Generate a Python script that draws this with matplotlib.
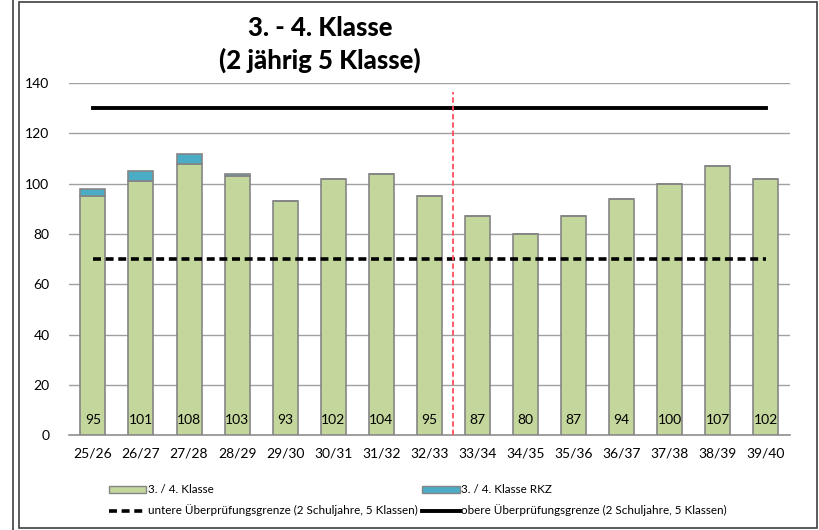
import matplotlib.pyplot as plt
from matplotlib.lines import Line2D
from matplotlib.patches import Patch, Rectangle

plt.rcParams['font.family'] = ['Lato', 'DejaVu Sans']

# Daten
jahre = ['25/26', '26/27', '27/28', '28/29', '29/30', '30/31', '31/32', '32/33',
         '33/34', '34/35', '35/36', '36/37', '37/38', '38/39', '39/40']
klasse = [95, 101, 108, 103, 93, 102, 104, 95, 87, 80, 87, 94, 100, 107, 102]
rkz = [3, 4, 4, 1, 0, 0, 0, 0, 0, 0, 0, 0, 0, 0, 0]
untere_grenze = 70
obere_grenze = 130
trennung = 7.5  # zwischen 32/33 und 33/34

fig = plt.figure(figsize=(8.2, 5.3), dpi=100)
ax = fig.add_axes([0.084, 0.179, 0.879, 0.664])

x = list(range(len(jahre)))
gruen = '#c3d69b'
blau = '#4bacc6'
ax.bar(x, klasse, width=0.52, color=gruen, edgecolor='#858585', linewidth=1.2, zorder=3)
ax.bar(x, rkz, width=0.52, bottom=klasse, color=blau, edgecolor='#858585', linewidth=1.2, zorder=3)

for xi, v in zip(x, klasse):
    ax.text(xi, 6, str(v), ha='center', va='center', fontsize=10, zorder=4)

ax.plot([x[0], x[-1]], [untere_grenze, untere_grenze], color='black', lw=2.6,
        linestyle=(0, (2.2, 1.3)), zorder=5)
ax.plot([x[0], x[-1]], [obere_grenze, obere_grenze], color='black', lw=2.8, zorder=5)
ax.plot([trennung, trennung], [0, 136.5], color='#ff4f5e', lw=1.3, linestyle=(0, (3, 1.6)), zorder=5)

ax.set_xlim(-0.5, len(jahre) - 0.5)
ax.set_ylim(0, 140)
ax.set_yticks(range(0, 141, 20))
ax.set_xticks(x)
ax.set_xticklabels(jahre, fontsize=10)
ax.tick_params(axis='both', length=0, labelsize=10)
ax.tick_params(axis='x', pad=9)
ax.tick_params(axis='y', pad=14)
ax.grid(axis='y', color='#a0a0a0', lw=1, zorder=0)
for s in ['top', 'right', 'left']:
    ax.spines[s].set_visible(False)
ax.spines['bottom'].set_color('#909090')
ax.spines['bottom'].set_linewidth(1.2)

fig.text(0.39, 0.948, '3. - 4. Klasse', ha='center', va='center', fontsize=18.5, fontweight='black')
fig.text(0.39, 0.886, '(2 jährig 5 Klasse)', ha='center', va='center', fontsize=18.5, fontweight='black')

handles = [
    Patch(facecolor=gruen, edgecolor='#858585', label='3. / 4. Klasse'),
    Line2D([], [], color='black', lw=2.6, linestyle=(0, (2.2, 1.3)),
           label='untere Überprüfungsgrenze (2 Schuljahre, 5 Klassen)'),
    Patch(facecolor=blau, edgecolor='#858585', label='3. / 4. Klasse RKZ'),
    Line2D([], [], color='black', lw=2.8, label='obere Überprüfungsgrenze (2 Schuljahre, 5 Klassen)'),
]
fig.legend(handles=handles, loc='center left', bbox_to_anchor=(0.12, 0.056), ncol=2,
           frameon=False, fontsize=8.4, handlelength=3.2, handleheight=0.55,
           handletextpad=0.15, columnspacing=0.4, labelspacing=0.8)

# Rahmen
fig.add_artist(Rectangle((19 / 820, 2 / 530), 798 / 820, 526 / 530, transform=fig.transFigure,
                         fill=False, edgecolor='#404040', lw=1.2))
fig.add_artist(Line2D([13 / 820, 13 / 820], [0, 1], transform=fig.transFigure, color='#404040', lw=1.2))

fig.savefig('out.png', dpi=100)
